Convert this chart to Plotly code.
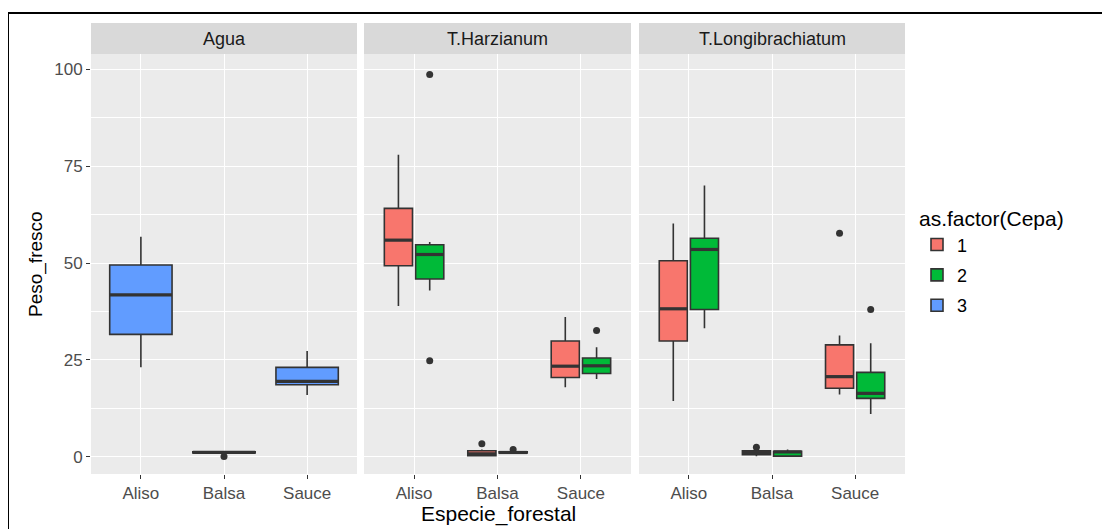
import plotly.graph_objects as go

# ---------------- data ----------------
panels = ["Agua", "T.Harzianum", "T.Longibrachiatum"]
species = ["Aliso", "Balsa", "Sauce"]
cepa_labels = ["1", "2", "3"]
cepa_colors = ["#F8766D", "#00BA38", "#619CFF"]

# five-number summaries per species (Aliso, Balsa, Sauce)
agua_c3_lower = [23.1, 1.0, 16.0]
agua_c3_q1 = [31.6, 1.05, 18.6]
agua_c3_median = [41.8, 1.2, 19.5]
agua_c3_q3 = [49.5, 1.35, 23.1]
agua_c3_upper = [56.8, 1.4, 27.3]

harz_c1_lower = [38.9, 0.1, 18.0]
harz_c1_q1 = [49.3, 0.3, 20.5]
harz_c1_median = [55.9, 0.8, 23.4]
harz_c1_q3 = [64.1, 1.6, 29.9]
harz_c1_upper = [77.9, 1.9, 36.1]

harz_c2_lower = [42.9, 0.9, 20.1]
harz_c2_q1 = [45.9, 1.0, 21.5]
harz_c2_median = [52.2, 1.15, 23.5]
harz_c2_q3 = [54.7, 1.3, 25.5]
harz_c2_upper = [55.4, 1.4, 28.3]

long_c1_lower = [14.4, 0.2, 16.1]
long_c1_q1 = [29.9, 0.6, 17.7]
long_c1_median = [38.2, 1.1, 20.7]
long_c1_q3 = [50.6, 1.6, 28.9]
long_c1_upper = [60.2, 1.9, 31.3]

long_c2_lower = [33.2, 0.1, 11.1]
long_c2_q1 = [38.0, 0.2, 15.1]
long_c2_median = [53.5, 1.3, 16.4]
long_c2_q3 = [56.4, 1.45, 21.8]
long_c2_upper = [70.0, 1.9, 29.3]

# outliers: species and values
agua_c3_out_sp = ["Balsa"]
agua_c3_out_val = [0.1]
harz_c1_out_sp = ["Balsa"]
harz_c1_out_val = [3.4]
harz_c2_out_sp = ["Aliso", "Aliso", "Balsa", "Sauce"]
harz_c2_out_val = [98.6, 24.8, 1.9, 32.6]
long_c1_out_sp = ["Balsa", "Sauce"]
long_c1_out_val = [2.5, 57.7]
long_c2_out_sp = ["Sauce"]
long_c2_out_val = [38.0]

groups = {
    "Agua": [
        (2, agua_c3_lower, agua_c3_q1, agua_c3_median, agua_c3_q3, agua_c3_upper, agua_c3_out_sp, agua_c3_out_val),
    ],
    "T.Harzianum": [
        (0, harz_c1_lower, harz_c1_q1, harz_c1_median, harz_c1_q3, harz_c1_upper, harz_c1_out_sp, harz_c1_out_val),
        (1, harz_c2_lower, harz_c2_q1, harz_c2_median, harz_c2_q3, harz_c2_upper, harz_c2_out_sp, harz_c2_out_val),
    ],
    "T.Longibrachiatum": [
        (0, long_c1_lower, long_c1_q1, long_c1_median, long_c1_q3, long_c1_upper, long_c1_out_sp, long_c1_out_val),
        (1, long_c2_lower, long_c2_q1, long_c2_median, long_c2_q3, long_c2_upper, long_c2_out_sp, long_c2_out_val),
    ],
}

# ---------------- layout geometry (reference pixels, page has 8px body margin) ----------------
OFF = 8
W, H = 1110 - OFF, 529 - OFF
PL, PR, PT, PB = 91, 905, 23, 474          # plotting region in reference pixels
L, T = PL - OFF, PT - OFF
R, B = W - (PR - OFF), H - (PB - OFF)
pw, ph = W - L - R, H - T - B
strip_h = 31
ytop = (ph - strip_h) / ph
px_domains = [(91, 357), (364, 631), (639, 905)]
x_domains = [((a - PL) / pw, (b - PL) / pw) for a, b in px_domains]


def px_x(X):
    return (X - PL) / pw


def px_y(Y):
    return (PB - Y) / ph


FONT = "Liberation Sans, Arial, sans-serif"
OUTLINE = "#333333"

fig = go.Figure()
shown = set()
dodge_total = 0.75
for pi, pname in enumerate(panels):
    xa = "x" if pi == 0 else f"x{pi+1}"
    ya = "y" if pi == 0 else f"y{pi+1}"
    glist = groups[pname]
    n = len(glist)
    slot = dodge_total / n
    bw = slot * 0.9 if n > 1 else dodge_total
    for k, (ci, lo, q1, med, q3, up, osp, oval) in enumerate(glist):
        off = -dodge_total / 2 + slot * (k + 0.5)
        pos = [species.index(s) + 1 + off for s in species]
        show = ci not in shown
        shown.add(ci)
        fig.add_trace(go.Box(
            x=pos, q1=q1, median=med, q3=q3, lowerfence=lo, upperfence=up,
            width=bw, fillcolor=cepa_colors[ci],
            line=dict(color=OUTLINE, width=1.6), whiskerwidth=0,
            boxpoints=False, name=cepa_labels[ci], legendgroup=cepa_labels[ci],
            legendrank=ci + 1, showlegend=show, xaxis=xa, yaxis=ya,
        ))
        mx, my = [], []
        for p, m in zip(pos, med):
            mx += [p - bw / 2, p + bw / 2, None]
            my += [m, m, None]
        fig.add_trace(go.Scatter(x=mx, y=my, mode="lines",
                                 line=dict(color=OUTLINE, width=3.2),
                                 showlegend=False, hoverinfo="skip",
                                 xaxis=xa, yaxis=ya))
        if oval:
            ox = [species.index(s) + 1 + off for s in osp]
            fig.add_trace(go.Scatter(x=ox, y=oval, mode="markers",
                                     marker=dict(color=OUTLINE, size=7),
                                     showlegend=False, xaxis=xa, yaxis=ya))

axis_common = dict(
    showline=False, zeroline=False, ticks="outside", ticklen=4,
    tickcolor=OUTLINE, tickwidth=1.1,
    tickfont=dict(family=FONT, size=17, color="#4D4D4D"),
    showgrid=True, gridcolor="white", gridwidth=1.1,
)
layout = dict(
    width=W, height=H, margin=dict(l=L, r=R, t=T, b=B),
    paper_bgcolor="white", plot_bgcolor="#EBEBEB",
    boxmode="overlay", font=dict(family=FONT),
)
for pi in range(3):
    sfx = "" if pi == 0 else str(pi + 1)
    layout["xaxis" + sfx] = dict(
        axis_common, domain=list(x_domains[pi]), range=[0.4, 3.6],
        tickvals=[1, 2, 3], ticktext=species,
        anchor="y" + sfx, fixedrange=True,
    )
    yax = dict(
        axis_common, domain=[0, ytop], range=[-4.4, 103.9],
        tickvals=[0, 25, 50, 75, 100],
        minor=dict(tickvals=[12.5, 37.5, 62.5, 87.5], showgrid=True,
                   gridcolor="white", gridwidth=0.55, ticks=""),
        anchor="x" + sfx,
    )
    if pi > 0:
        yax.update(matches="y", showticklabels=False, ticks="")
    layout["yaxis" + sfx] = yax
fig.update_layout(**layout)

# strips
for pi, pname in enumerate(panels):
    sfx = "" if pi == 0 else str(pi + 1)
    fig.add_shape(type="rect", xref=f"x{sfx} domain", yref="paper",
                  x0=0, x1=1, y0=ytop, y1=1, fillcolor="#D9D9D9",
                  line=dict(width=0), layer="below")
    fig.add_annotation(text=pname, xref=f"x{sfx} domain", yref="paper",
                       x=0.5, y=(ytop + 1) / 2, showarrow=False,
                       xanchor="center", yanchor="middle",
                       font=dict(family=FONT, size=18, color="#1A1A1A"))

# axis titles
fig.add_annotation(text="Especie_forestal", xref="paper", yref="paper",
                   x=0.5, y=px_y(514), showarrow=False,
                   xanchor="center", yanchor="middle",
                   font=dict(family=FONT, size=21, color="black"))
fig.add_annotation(text="Peso_fresco", xref="paper", yref="paper",
                   x=px_x(36), y=ytop / 2, showarrow=False, textangle=-90,
                   xanchor="center", yanchor="middle",
                   font=dict(family=FONT, size=19, color="black"))

# outer frame
fig.add_shape(type="rect", xref="paper", yref="paper",
              x0=px_x(8), x1=px_x(1125),
              y0=px_y(545), y1=px_y(13),
              line=dict(color="black", width=2), fillcolor="rgba(0,0,0,0)")

fig.update_layout(legend=dict(
    title=dict(text="as.factor(Cepa)", font=dict(family=FONT, size=21, color="black")),
    x=px_x(917), xanchor="left", y=px_y(199), yanchor="top",
    font=dict(family=FONT, size=18, color="black"),
    tracegroupgap=4, bgcolor="rgba(0,0,0,0)",
))

fig.write_html("out.html")
